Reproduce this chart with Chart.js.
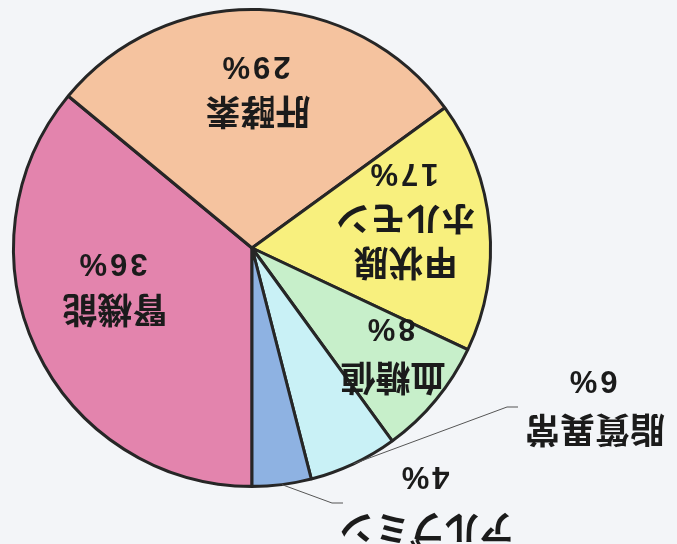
<!DOCTYPE html>
<html>
<head>
<meta charset="utf-8">
<script src="https://cdn.jsdelivr.net/npm/chart.js@4"></script>
<style>
  html, body { margin: 0; padding: 0; background: #f3f5f8; overflow: hidden; }
  #wrap { width: 677px; height: 544px; transform: rotate(180deg); }
  canvas { display: block; }
</style>
</head>
<body>
<div id="wrap"><canvas id="c" width="677" height="544"></canvas></div>
<script>
// Data (the scanned chart is printed upside down)
const categories = ['腎機能', '肝酵素', '甲状腺ホルモン', '血糖値', '脂質異常', 'アルブミン'];
const labelLines = [['腎機能'], ['肝酵素'], ['甲状腺', 'ホルモン'], ['血糖値'], ['脂質異常'], ['アルブミン']];
const percentValues = [36, 29, 17, 8, 6, 4];
const sliceColors = ['#e384ad', '#f5c39f', '#f8f07e', '#c7efca', '#c9f1f6', '#8eb2e2'];

// label placement (px offsets from pie centre, unrotated frame), and leader line bends
const labelPlacement = [
  { dx: 137, dy: -62, gap: 45 },
  { dx: -6, dy: 136, gap: 44 },
  { dx: -154, dy: -15, gap: 44 },
  { dx: -141, dy: -130, gap: 48 },
  { dx: -343, dy: -182, gap: 48, leader: [[-255, -159], [-266, -159]] },
  { dx: -175, dy: -280, gap: 50, leader: [[-80, -255], [-91, -255]] }
];

const labelPlugin = {
  id: 'sliceLabels',
  afterDatasetsDraw(chart) {
    const ctx = chart.ctx;
    const meta = chart.getDatasetMeta(0);
    meta.data.forEach((arc, i) => {
      const p = labelPlacement[i];
      const cx = arc.x, cy = arc.y;
      ctx.save();
      if (p.leader) {
        const mid = (arc.startAngle + arc.endAngle) / 2;
        const r = arc.outerRadius;
        ctx.beginPath();
        ctx.moveTo(cx + Math.cos(mid) * r, cy + Math.sin(mid) * r);
        p.leader.forEach(pt => ctx.lineTo(cx + pt[0], cy + pt[1]));
        ctx.strokeStyle = '#555';
        ctx.lineWidth = 1;
        ctx.stroke();
      }
      ctx.fillStyle = '#1b1b1b';
      ctx.textAlign = 'center';
      ctx.textBaseline = 'middle';
      const lines = labelLines[i];
      let y = cy + p.dy;
      ctx.font = 'bold 35px "Noto Sans CJK JP", sans-serif';
      lines.forEach(t => {
        ctx.fillText(t, cx + p.dx, y);
        y += p.gap;
      });
      ctx.font = 'bold 31px "Liberation Sans Narrow", "Liberation Sans", sans-serif';
      ctx.letterSpacing = '3px';
      ctx.fillText(percentValues[i] + '%', cx + p.dx + 3, y + 2);
      ctx.restore();
    });
  }
};

new Chart(document.getElementById('c'), {
  type: 'pie',
  data: {
    labels: categories,
    datasets: [{
      data: percentValues,
      backgroundColor: sliceColors,
      borderColor: '#262626',
      borderWidth: 3
    }]
  },
  options: {
    responsive: false,
    devicePixelRatio: 1,
    animation: false,
    rotation: 0,
    layout: { padding: { left: 185, right: 12, top: 56, bottom: 8 } },
    plugins: {
      legend: { display: false },
      tooltip: { enabled: false }
    }
  },
  plugins: [labelPlugin]
});
</script>
</body>
</html>
